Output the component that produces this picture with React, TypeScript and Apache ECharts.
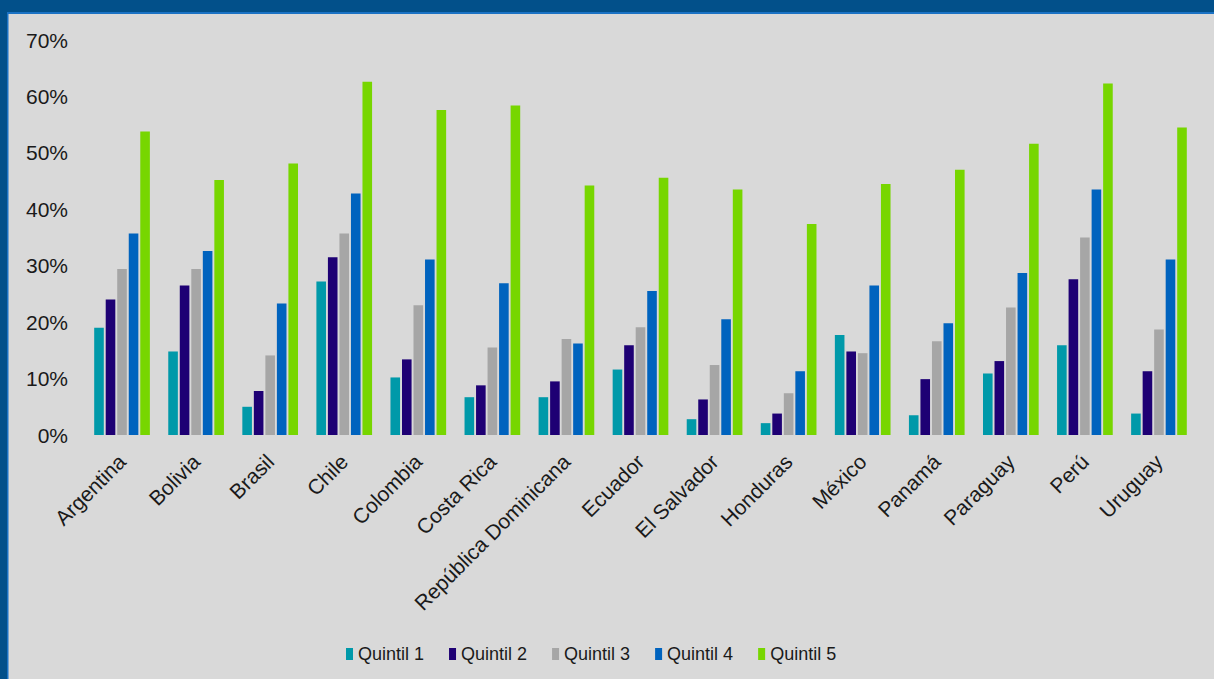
import React, { useEffect, useRef } from "react";
import * as echarts from "echarts";

const categories = [
  "Argentina", "Bolivia", "Brasil", "Chile", "Colombia", "Costa Rica",
  "República Dominicana", "Ecuador", "El Salvador", "Honduras", "México",
  "Panamá", "Paraguay", "Perú", "Uruguay",
];
const seriesNames = ["Quintil 1", "Quintil 2", "Quintil 3", "Quintil 4", "Quintil 5"];
const quintil1 = [19.0, 14.8, 5.0, 27.2, 10.2, 6.7, 6.7, 11.6, 2.8, 2.1, 17.7, 3.5, 10.9, 15.9, 3.8];
const quintil2 = [24.0, 26.5, 7.8, 31.5, 13.4, 8.8, 9.5, 15.9, 6.3, 3.8, 14.8, 9.9, 13.1, 27.6, 11.3];
const quintil3 = [29.4, 29.4, 14.1, 35.7, 23.0, 15.5, 17.0, 19.1, 12.4, 7.4, 14.5, 16.6, 22.6, 35.0, 18.7];
const quintil4 = [35.7, 32.6, 23.3, 42.8, 31.1, 26.9, 16.2, 25.5, 20.5, 11.3, 26.5, 19.8, 28.7, 43.5, 31.1];
const quintil5 = [53.8, 45.2, 48.1, 62.6, 57.6, 58.4, 44.2, 45.6, 43.5, 37.4, 44.5, 47.0, 51.6, 62.3, 54.5];
const seriesValues = [quintil1, quintil2, quintil3, quintil4, quintil5];
const colors = ["#0099A9", "#1E0074", "#A6A6A6", "#0063BE", "#77D600"];
const yTicks = [0, 10, 20, 30, 40, 50, 60, 70];

export default function App() {
  const ref = useRef<HTMLDivElement>(null);
  useEffect(() => {
    if (!ref.current) return;
    const chart = echarts.init(ref.current, undefined, { renderer: "svg" });
    const font = "'Liberation Sans', Arial, sans-serif";
    chart.setOption({
      animation: false,
      backgroundColor: "#D9D9D9",
      textStyle: { fontFamily: font },
      graphic: [
        { type: "rect", left: 0, top: 0, shape: { width: 1214, height: 12 }, style: { fill: "#02508A" }, z: 10 },
        { type: "rect", left: 0, top: 12, shape: { width: 1214, height: 2 }, style: { fill: "#1A72C4" }, z: 10 },
        { type: "rect", left: 0, top: 0, shape: { width: 7, height: 679 }, style: { fill: "#02508A" }, z: 10 },
        { type: "rect", left: 7, top: 12, shape: { width: 1.5, height: 667 }, style: { fill: "#1A72C4" }, z: 10 },
      ],
      legend: {
        data: seriesNames,
        top: 640,
        left: 341,
        itemWidth: 7,
        itemHeight: 12,
        itemGap: 25,
        icon: "rect",
        textStyle: { fontFamily: font, fontSize: 18, color: "#1a1a1a" },
      },
      grid: { left: 85, right: 18, top: 40, bottom: 244, containLabel: false },
      xAxis: {
        type: "category",
        data: categories,
        axisLine: { show: false },
        axisTick: { show: false },
        axisLabel: {
          rotate: 45,
          interval: 0,
          margin: 23,
          fontFamily: font,
          fontSize: 21,
          color: "#1a1a1a",
        },
      },
      yAxis: {
        type: "value",
        min: yTicks[0],
        max: yTicks[yTicks.length - 1],
        interval: 10,
        splitLine: { show: false },
        axisLine: { show: false },
        axisTick: { show: false },
        axisLabel: {
          formatter: "{value}%",
          margin: 17,
          fontFamily: font,
          fontSize: 21,
          color: "#1a1a1a",
        },
      },
      series: seriesNames.map((name, i) => ({
        name,
        type: "bar",
        data: seriesValues[i],
        barWidth: 9.6,
        barGap: "20%",
        itemStyle: { color: colors[i] },
      })),
    });
    return () => chart.dispose();
  }, []);
  return (
    <div
      ref={ref}
      style={{ position: "fixed", left: 0, top: 0, width: 1214, height: 679 }}
    />
  );
}
